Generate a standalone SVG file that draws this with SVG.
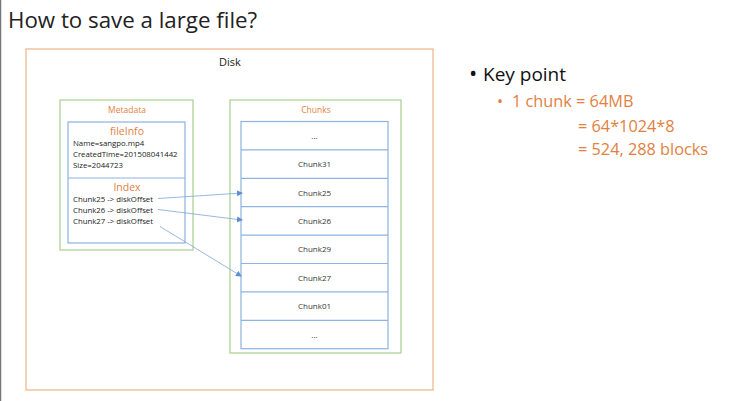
<svg xmlns="http://www.w3.org/2000/svg" width="729" height="401" viewBox="0 0 729 401">
<style>
text{font-family:"Open Sans","Liberation Sans",sans-serif}
.or{fill:#e2813f}
.sm{font-size:7.8px;fill:#222}
.cl{font-size:8px;fill:#333;text-anchor:middle}
.blue{fill:#fff;stroke:#8db3e2;stroke-width:1.2}
.green{fill:#fff;stroke:#a9d18e;stroke-width:1.2}
.conn{stroke:#7ea6d8;stroke-width:0.8;fill:none;marker-end:url(#ah)}
</style>
<defs>
<marker id="ah" markerWidth="6" markerHeight="6" refX="5" refY="3" orient="auto" markerUnits="userSpaceOnUse">
<path d="M0,0 L6,3 L0,6 z" fill="#5b8fd0"/>
</marker>
</defs>
<rect width="729" height="401" fill="#fff"/>
<line x1="0.5" y1="0" x2="0.5" y2="401" stroke="#777" stroke-width="1.5"/>
<text x="8" y="28" font-size="22.3" fill="#222">How to save a large file?</text>

<g id="disk">
<rect x="26" y="49" width="407" height="341" fill="#fff" stroke="#f4b183" stroke-width="1.2"/>
<text x="230" y="66" font-size="11" fill="#222" text-anchor="middle">Disk</text>
</g>

<g id="metadata">
<rect class="green" x="60" y="100" width="133" height="150"/>
<text class="or" x="127" y="113" font-size="8.5" text-anchor="middle">Metadata</text>
<rect class="blue" x="68" y="122" width="117" height="121"/>
<line x1="68" y1="178" x2="185" y2="178" stroke="#8db3e2" stroke-width="1.2"/>
<text class="or" x="127" y="135" font-size="10.5" text-anchor="middle">fileInfo</text>
<text class="sm" x="73" y="146">Name=sangpo.mp4</text>
<text class="sm" x="73" y="157">CreatedTime=201508041442</text>
<text class="sm" x="73" y="168">Size=2044723</text>
<text class="or" x="127" y="191" font-size="10.5" text-anchor="middle">Index</text>
<text class="sm" x="73" y="202">Chunk25 -&gt; diskOffset</text>
<text class="sm" x="73" y="213">Chunk26 -&gt; diskOffset</text>
<text class="sm" x="73" y="224">Chunk27 -&gt; diskOffset</text>
</g>

<g id="chunks">
<rect class="green" x="230" y="100" width="171" height="253"/>
<text class="or" x="316" y="113" font-size="8.5" text-anchor="middle">Chunks</text>
<rect class="blue" x="241" y="121.5" width="147" height="227.2"/>
<g stroke="#8db3e2" stroke-width="1.2">
<line x1="241" y1="149.9" x2="388" y2="149.9"/>
<line x1="241" y1="178.3" x2="388" y2="178.3"/>
<line x1="241" y1="206.7" x2="388" y2="206.7"/>
<line x1="241" y1="235.1" x2="388" y2="235.1"/>
<line x1="241" y1="263.5" x2="388" y2="263.5"/>
<line x1="241" y1="291.9" x2="388" y2="291.9"/>
<line x1="241" y1="320.3" x2="388" y2="320.3"/>
</g>
<text class="cl" x="314.5" y="138.5">...</text>
<text class="cl" x="314.5" y="167">Chunk31</text>
<text class="cl" x="314.5" y="195.5">Chunk25</text>
<text class="cl" x="314.5" y="223.5">Chunk26</text>
<text class="cl" x="314.5" y="252">Chunk29</text>
<text class="cl" x="314.5" y="280.5">Chunk27</text>
<text class="cl" x="314.5" y="309">Chunk01</text>
<text class="cl" x="314.5" y="338">...</text>
</g>

<g id="connectors">
<line class="conn" x1="158" y1="198.5" x2="242" y2="193"/>
<line class="conn" x1="158" y1="209.5" x2="242" y2="220"/>
<line class="conn" x1="160" y1="226.5" x2="241" y2="276"/>
</g>

<g id="keypoint">
<text x="469" y="81" font-size="22" fill="#111">•</text>
<text x="483" y="81" font-size="19" fill="#111">Key point</text>
<text class="or" x="497" y="107" font-size="16">•</text>
<text class="or" x="512" y="107" font-size="16.3">1 chunk = 64MB</text>
<text class="or" x="578" y="132" font-size="16.3">= 64*1024*8</text>
<text class="or" x="578" y="155" font-size="16.3">= 524, 288 blocks</text>
</g>
</svg>
